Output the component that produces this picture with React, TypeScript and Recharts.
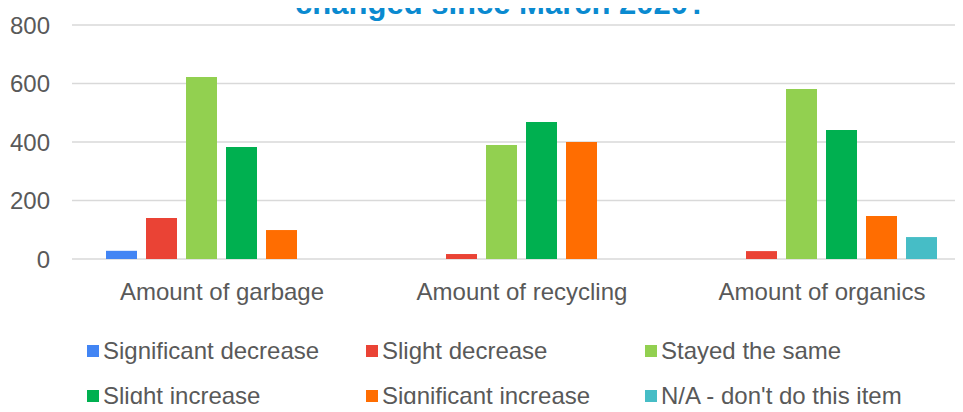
import { BarChart, Bar, XAxis, YAxis, CartesianGrid } from "recharts";

const categories = ["Amount of garbage", "Amount of recycling", "Amount of organics"];

const seriesNames = [
  "Significant decrease",
  "Slight decrease",
  "Stayed the same",
  "Slight increase",
  "Significant increase",
  "N/A - don't do this item",
];

const seriesColors = ["#4285F4", "#EA4335", "#92D050", "#00B050", "#FF6D01", "#46BDC6"];

// values per series, in category order
const significantDecrease = [28, 0, 0];
const slightDecrease = [140, 17, 27];
const stayedSame = [622, 390, 581];
const slightIncrease = [383, 468, 441];
const significantIncrease = [99, 400, 147];
const notApplicable = [0, 0, 75];

const yTicks = [0, 200, 400, 600, 800];

const seriesValues = [
  significantDecrease,
  slightDecrease,
  stayedSame,
  slightIncrease,
  significantIncrease,
  notApplicable,
];

const chartData = categories.map((name, i) => {
  const row: Record<string, string | number> = { name };
  seriesNames.forEach((s, j) => {
    row[s] = seriesValues[j][i];
  });
  return row;
});

const FONT = '"Liberation Sans", Arial, sans-serif';
const TEXT = "#595959";

function LegendBlock() {
  return (
    <div
      style={{
        position: "absolute",
        left: 87,
        top: 328,
        display: "grid",
        gridTemplateColumns: "279px 279px 279px",
        gridAutoRows: "45px",
        fontFamily: FONT,
        fontSize: 24,
        color: TEXT,
      }}
    >
      {seriesNames.map((s, i) => (
        <div key={s} style={{ display: "flex", alignItems: "center", whiteSpace: "nowrap" }}>
          <span
            style={{
              display: "inline-block",
              width: 12,
              height: 12,
              background: seriesColors[i],
              marginRight: 4,
            }}
          />
          {s}
        </div>
      ))}
    </div>
  );
}

export default function App() {
  return (
    <div
      style={{
        position: "relative",
        margin: -8,
        width: 963,
        height: 412,
        overflow: "hidden",
        background: "#fff",
      }}
    >
      <div
        style={{
          position: "absolute",
          top: -12,
          left: 0,
          width: 1002,
          textAlign: "center",
          fontFamily: FONT,
          fontWeight: "bold",
          fontSize: 31,
          lineHeight: "31px",
          color: "#0A8AD0",
          whiteSpace: "nowrap",
        }}
      >
        changed since March 2020?
      </div>
      <div style={{ position: "absolute", top: 0, left: 0 }}>
        <BarChart
          width={980}
          height={320}
          data={chartData}
          margin={{ top: 25, right: 8, bottom: 20, left: 0 }}
          barCategoryGap={34}
          barGap={9}
        >
          <CartesianGrid vertical={false} stroke="#d9d9d9" strokeWidth={1.5} />
          <XAxis
            dataKey="name"
            axisLine={false}
            tickLine={false}
            tickMargin={18}
            height={41}
            tick={{ fontSize: 24, fill: TEXT, fontFamily: FONT }}
          />
          <YAxis
            domain={[0, 800]}
            ticks={yTicks}
            axisLine={false}
            tickLine={false}
            tickMargin={16}
            width={72}
            tick={{ fontSize: 24, fill: TEXT, fontFamily: FONT }}
          />
          {seriesNames.map((s, i) => (
            <Bar key={s} dataKey={s} fill={seriesColors[i]} isAnimationActive={false} />
          ))}
        </BarChart>
      </div>
      <LegendBlock />
    </div>
  );
}
